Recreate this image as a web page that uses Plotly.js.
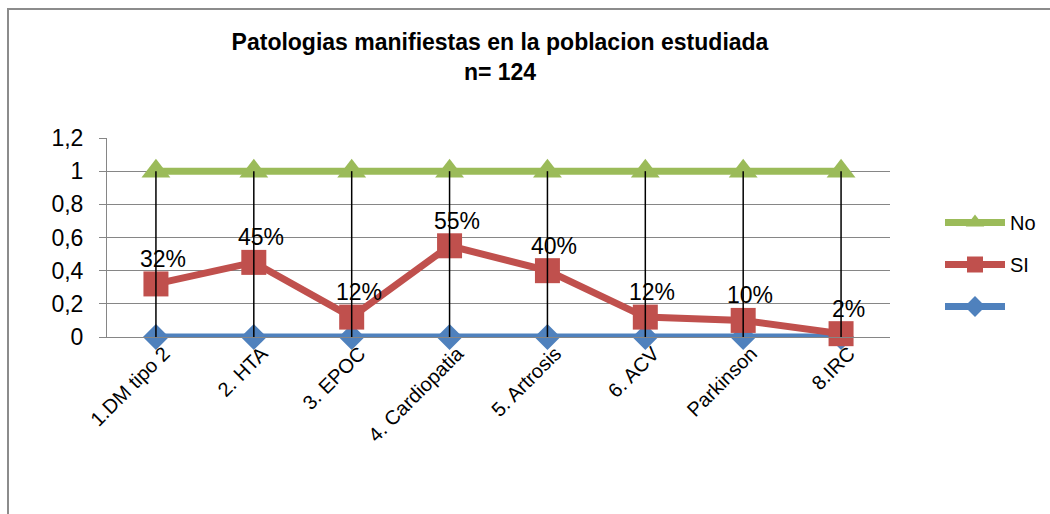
<!DOCTYPE html>
<html>
<head>
<meta charset="utf-8">
<script src="https://cdn.plot.ly/plotly-3.0.1.min.js"></script>
<style>
  html, body { margin: 0; padding: 0; background: #fff; }
  #wrap { position: relative; width: 1050px; height: 514px; overflow: hidden; }
  #chart { width: 1050px; height: 514px; }
  #frame { position: absolute; left: 7px; top: 8px; width: 1100px; height: 600px;
           border: 2px solid #8c8c8c; box-sizing: border-box; pointer-events: none; }
</style>
</head>
<body>
<div id="wrap">
  <div id="chart"></div>
  <div id="frame"></div>
</div>
<script>
// ---- data ----
const categories = ["1.DM tipo 2", "2. HTA", "3. EPOC", "4. Cardiopatia", "5. Artrosis", "6. ACV", "Parkinson", "8.IRC"];
const seriesBlue = [0, 0, 0, 0, 0, 0, 0, 0];
const seriesSI   = [0.32, 0.45, 0.12, 0.55, 0.40, 0.12, 0.10, 0.02];
const seriesNo   = [1, 1, 1, 1, 1, 1, 1, 1];
const labelsSI   = ["32%", "45%", "12%", "55%", "40%", "12%", "10%", "2%"];
const seriesNames = ["", "SI", "No"];

// high-low lines built from the series
const hlX = [], hlY = [];
categories.forEach((c, i) => {
  const vals = [seriesBlue[i], seriesSI[i], seriesNo[i]];
  hlX.push(c, c, null);
  hlY.push(Math.min(...vals), Math.max(...vals), null);
});

const FONT = "Liberation Sans, Arial, sans-serif";

const traces = [
  { x: categories, y: seriesBlue, name: seriesNames[0], type: "scatter", mode: "lines+markers",
    line: { color: "#4F81BD", width: 7 }, marker: { symbol: "diamond", size: 20, color: "#4F81BD" },
    cliponaxis: false, legendgroup: "a", legendrank: 3 },
  { x: categories, y: seriesSI, name: seriesNames[1], type: "scatter", mode: "lines+markers",
    line: { color: "#C0504D", width: 7 }, marker: { symbol: "square", size: 25, color: "#C0504D" },
    cliponaxis: false, legendgroup: "b", legendrank: 2 },
  { x: categories, y: seriesNo, name: seriesNames[2], type: "scatter", mode: "lines+markers",
    line: { color: "#9BBB59", width: 7 }, marker: { symbol: "triangle-up", size: 25, color: "#9BBB59" },
    cliponaxis: false, legendgroup: "c", legendrank: 1 },
  { x: hlX, y: hlY, type: "scatter", mode: "lines", line: { color: "#000", width: 1.5 },
    showlegend: false, hoverinfo: "skip", cliponaxis: false }
];

const annotations = categories.map((c, i) => ({
  x: c, y: seriesSI[i], text: labelsSI[i], showarrow: false,
  xshift: 7, yshift: 25, font: { family: FONT, size: 23, color: "#000" }
}));

const layout = {
  width: 1050, height: 514,
  margin: { l: 107, r: 160, t: 138, b: 177 },
  paper_bgcolor: "#fff", plot_bgcolor: "#fff",
  separators: ", ",
  font: { family: FONT, color: "#000" },
  title: {
    text: "<b>Patologias manifiestas en la poblacion estudiada<br>n= 124</b>",
    font: { family: FONT, size: 23, color: "#000" },
    x: 500 / 1050, xanchor: "center", xref: "container",
    y: 1 - 50 / 514, yanchor: "top", yref: "container"
  },
  xaxis: {
    type: "category", range: [-0.5, 7.5], showgrid: false,
    showline: true, linecolor: "#868686", linewidth: 1,
    ticks: "", tickangle: -45, tickfont: { family: FONT, size: 20, color: "#000" },
    ticklabelshift: 8, ticklabelstandoff: -4,
    fixedrange: true, zeroline: false
  },
  yaxis: {
    range: [0, 1.2], dtick: 0.2, tick0: 0, showgrid: true, gridcolor: "#868686", gridwidth: 1,
    showline: true, linecolor: "#868686", linewidth: 1, zeroline: false,
    ticks: "outside", ticklen: 7, tickcolor: "#868686",
    tickfont: { family: FONT, size: 23, color: "#000" }, ticklabelstandoff: 11,
    fixedrange: true
  },
  legend: {
    xref: "container", yref: "container",
    x: 940 / 1050, xanchor: "left", y: 1 - 203 / 514, yanchor: "top",
    traceorder: "grouped", tracegroupgap: 13,
    font: { family: FONT, size: 20, color: "#000" },
    bgcolor: "rgba(0,0,0,0)", itemwidth: 60
  },
  annotations: annotations,
  showlegend: true
};

Plotly.newPlot("chart", traces, layout, { displayModeBar: false, staticPlot: true });
</script>
</body>
</html>
